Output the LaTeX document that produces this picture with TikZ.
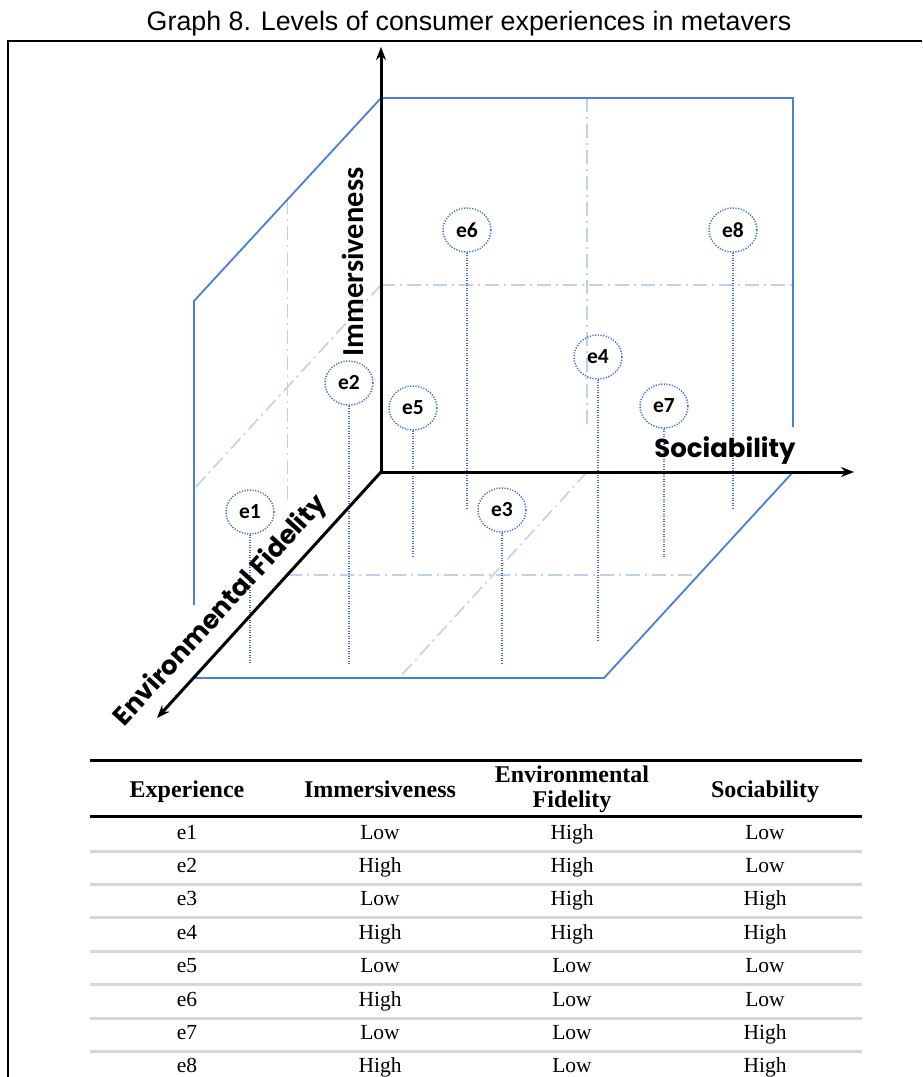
\documentclass[tikz,border=0pt]{standalone}
\usepackage{fontspec}
\setmainfont{Liberation Serif}
\newfontfamily\titlefont{Liberation Sans}
\newfontfamily\geofont{Poppins}
\newfontfamily\calfont{Carlito}
\usetikzlibrary{arrows.meta,shapes.geometric}
\definecolor{edgeblue}{RGB}{74,126,216}
\definecolor{gridblue}{RGB}{190,208,240}
\definecolor{dotblue}{RGB}{66,108,212}
\definecolor{rulegray}{RGB}{215,215,215}
\begin{document}
\begin{tikzpicture}[x=1pt,y=-1pt,
  plane/.style={draw=edgeblue,line width=1.8pt,line join=miter},
  midline/.style={draw=gridblue,line width=1.6pt,dash pattern=on 14pt off 5pt on 2pt off 5pt},
  stem/.style={draw=dotblue,line width=1.2pt,dash pattern=on 1pt off 1.5pt},
  expnode/.style={ellipse,draw=dotblue,line width=1.5pt,dash pattern=on 1.2pt off 1.5pt,
    minimum width=48pt,minimum height=44pt,inner sep=0pt,
    font=\calfont\bfseries\fontsize{21.5pt}{24pt}\selectfont},
  axis/.style={line width=3pt,-{Stealth[length=13pt,width=10pt]}},
  head/.style={font=\bfseries\fontsize{24pt}{25pt}\selectfont,align=center},
  cell/.style={font=\fontsize{21.5pt}{24pt}\selectfont,anchor=base},
  toprule/.style={line width=3pt,black},
  rowrule/.style={line width=3pt,rulegray}]
\useasboundingbox (0,0) rectangle (922,1077);

% title and frame
\node[font=\titlefont\fontsize{26.8pt}{30pt}\selectfont,anchor=base] (title) at (469,30)
  {Graph 8. Levels of consumer experiences in metavers};
\draw[line width=2pt] (8,1077) -- (8,41) -- (922,41);

% mid-lines of the three planes
\draw[midline] (287.5,199.5) -- (287.5,503);
\draw[midline] (381,285) -- (194,489);
\draw[midline] (587,98) -- (587,427);
\draw[midline] (381,285) -- (795,285);
\draw[midline] (287.5,575) -- (698.5,575);
\draw[midline] (587,472) -- (399,678);

% outline of the planes
\draw[plane] (194,605) -- (194,301) -- (381,98) -- (793,98) -- (793,427);
\draw[plane] (793,472) -- (604,678) -- (194,678);

% experiences
\node[expnode] (e1) at (250,512) {e1};
\node[expnode] (e2) at (349,383) {e2};
\node[expnode] (e3) at (502,510) {e3};
\node[expnode] (e4) at (598,357) {e4};
\node[expnode] (e5) at (413,408) {e5};
\node[expnode] (e6) at (467,230) {e6};
\node[expnode] (e7) at (664,406) {e7};
\node[expnode] (e8) at (733,230) {e8};
\coordinate (f1) at (250,663);
\coordinate (f2) at (349,665);
\coordinate (f3) at (502,663);
\coordinate (f4) at (598,640);
\coordinate (f5) at (413,557);
\coordinate (f6) at (467,510);
\coordinate (f7) at (664,557);
\coordinate (f8) at (733,510);
\foreach \i in {1,...,8} \draw[stem] (e\i.south) -- (f\i);

% axis labels
\node[font=\calfont\bfseries\fontsize{30.5pt}{32pt}\selectfont,rotate=90,anchor=base]
  (lblimm) at (363,262) {Immersiveness};
\node[font=\geofont\bfseries\fontsize{26pt}{28pt}\selectfont,anchor=base]
  (lblsoc) at (725,457) {Sociability};
\node[font=\geofont\bfseries\fontsize{26pt}{28pt}\selectfont,rotate=47.7,anchor=base]
  (lblenv) at (226,616) {Environmental Fidelity};

% axes
\coordinate (O) at (381,472);
\coordinate (tipimm) at (381,47);
\coordinate (tipsoc) at (854,472);
\coordinate (tipenv) at (157,718);
\draw[axis] (O) -- (tipimm);
\draw[axis] (O) -- (tipsoc);
\draw[axis] (O) -- (tipenv);

% table
\draw[toprule] (90,760) -- (862,760);
\draw[toprule] (90,816) -- (862,816);
\node[head,anchor=base] (hexp) at (187,797) {Experience};
\node[head,anchor=base] (himm) at (380,797) {Immersiveness};
\node[head] (henv) at (572,789) {Environmental\\Fidelity};
\node[head,anchor=base] (hsoc) at (765,797) {Sociability};
\foreach \e/\im/\en/\so [count=\k from 0] in
  {e1/Low/High/Low, e2/High/High/Low, e3/Low/High/High, e4/High/High/High,
   e5/Low/Low/Low, e6/High/Low/Low, e7/Low/Low/High, e8/High/Low/High}{
  \pgfmathsetmacro{\yb}{839+33.4*\k}
  \node[cell] (c\k a) at (187,\yb) {\e};
  \node[cell] (c\k b) at (380,\yb) {\im};
  \node[cell] (c\k c) at (572,\yb) {\en};
  \node[cell] (c\k d) at (765,\yb) {\so};
}
\foreach \k in {0,...,6}{
  \pgfmathsetmacro{\yr}{851+33.4*\k}
  \draw[rowrule] (90,\yr) -- (862,\yr);
}
\end{tikzpicture}
\end{document}
